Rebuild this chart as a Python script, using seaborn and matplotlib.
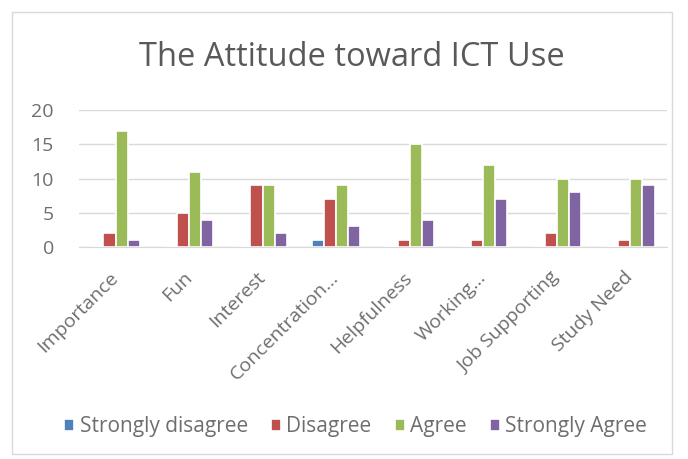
import pandas as pd
import numpy as np

import matplotlib.pyplot as plt
from matplotlib.patches import Rectangle
import seaborn as sns

categories = ["Importance", "Fun", "Interest", "Concentration…", "Helpfulness",
              "Working…", "Job Supporting", "Study Need"]
strongly_disagree = [0, 0, 0, 1, 0, 0, 0, 0]
disagree = [2, 5, 9, 7, 1, 1, 2, 1]
agree = [17, 11, 9, 9, 15, 12, 10, 10]
strongly_agree = [1, 4, 2, 3, 4, 7, 8, 9]
series = ["Strongly disagree", "Disagree", "Agree", "Strongly Agree"]
colors = ["#4F81BD", "#C0504D", "#9BBB59", "#8064A2"]

df = pd.DataFrame({
    "category": categories * 4,
    "response": np.repeat(series, len(categories)),
    "count": strongly_disagree + disagree + agree + strongly_agree,
})

sns.set_style("white")
plt.rcParams['font.family'] = ['Open Sans', 'DejaVu Sans']

fig = plt.figure(figsize=(6.88, 4.59), dpi=100)
ax = fig.add_axes([0.1145, 0.462, 0.855, 0.298])

sns.barplot(data=df, x="category", y="count", hue="response",
            hue_order=series, palette=colors, width=0.66,
            saturation=1, edgecolor="white", linewidth=1.2, ax=ax)

ax.set_ylim(0, 20)
ax.set_yticks([0, 5, 10, 15, 20])
ax.yaxis.grid(True, color="#D9D9D9", linewidth=1)
ax.set_axisbelow(True)
for s in ["top", "right", "left"]:
    ax.spines[s].set_visible(False)
ax.spines["bottom"].set_color("#D9D9D9")
ax.set_xlabel("")
ax.set_ylabel("")
ax.tick_params(axis="both", length=0, colors="#6E6E6E", labelsize=14)
ax.tick_params(axis="y", pad=18)
ax.tick_params(axis="x", pad=20)
plt.setp(ax.get_xticklabels(), rotation=45, ha="right", va="center",
         rotation_mode="anchor")

fig.suptitle("The Attitude toward ICT Use", x=0.512, y=0.91,
             fontsize=23.5, color="#595959")

ax.legend_.remove()
handles, labels = ax.get_legend_handles_labels()
fig.legend(handles, labels, loc="center", bbox_to_anchor=(0.517, 0.07),
           ncol=4, frameon=False, fontsize=15, handlelength=0.5,
           handleheight=0.5, handletextpad=0.25, columnspacing=1.1,
           labelcolor="#6E6E6E")

fig.patches.append(Rectangle((0.017, 0.01), 0.96, 0.963, transform=fig.transFigure,
                             fill=False, edgecolor="#D9D9D9", linewidth=1))

fig.savefig("out.png", dpi=100)
